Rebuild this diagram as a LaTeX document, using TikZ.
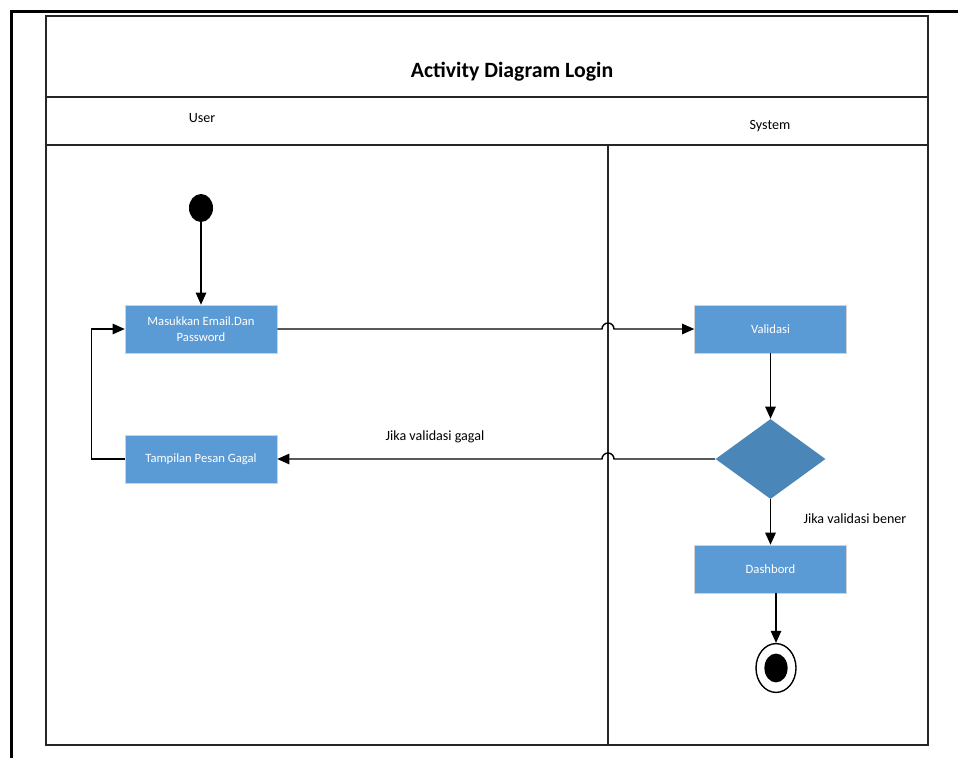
\documentclass[tikz,border=0pt]{standalone}
\usepackage{fontspec}
\setmainfont{Carlito}
\usetikzlibrary{arrows.meta, positioning, shapes.geometric, calc, shadows}

\definecolor{boxblue}{HTML}{5B9BD5}
\definecolor{diamondblue}{HTML}{4A86B8}

\begin{document}
\begin{tikzpicture}[
    x=0.025cm, y=0.025cm,
    font=\fontsize{9}{11}\selectfont,
    activity/.style={rectangle, draw=gray!35, fill=boxblue, text=white, minimum width=3.8cm, minimum height=1.2cm, align=center, inner sep=2pt,
        drop shadow={opacity=0.12, shadow xshift=0.6pt, shadow yshift=-1pt}},
    decision/.style={diamond, fill=diamondblue, minimum width=2.75cm, minimum height=2cm, aspect=1.375, inner sep=0pt},
    flow/.style={-{Triangle[length=3mm, width=2.6mm]}, line width=1pt},
    lane/.style={line width=1.1pt, draw=black!85},
    lbl/.style={font=\fontsize{10}{12}\selectfont}
]
    \useasboundingbox (0,0) rectangle (958,-758);

    % Page edge
    \draw[line width=2.8pt] (11.5,-758) -- (11.5,-11.5) -- (958,-11.5);

    % Swimlanes
    \draw[lane] (46,-16) rectangle (928,-745);
    \draw[lane] (46,-97) -- (928,-97);
    \draw[lane] (46,-145) -- (928,-145);
    \coordinate (lanetop) at (608,-145);
    \coordinate (lanebot) at (608,-745);
    \draw[lane] (lanetop) -- (lanebot);

    \node[font=\fontsize{15.5}{18}\selectfont\bfseries] (title) at (512,-72) {Activity Diagram Login};
    \node[lbl] (user) at (202,-118) {User};
    \node[lbl] (system) at (770,-126) {System};

    % Nodes
    \node[ellipse, fill=black, minimum width=0.6cm, minimum height=0.7cm, inner sep=0pt] (start) at (201,-208) {};
    \node[activity] (input) at (201,-329) {Masukkan Email.Dan\\Password};
    \node[activity] (fail) at (201,-459) {Tampilan Pesan Gagal};
    \node[activity] (valid) at (770.5,-329) {Validasi};
    \node[decision] (check) at (770.5,-459) {};
    \node[activity] (dash) at (770.5,-569) {Dashbord};
    \node[ellipse, draw, line width=1pt, fill=white, minimum width=1cm, minimum height=1.22cm, inner sep=0pt] (final) at (776,-668) {};
    \node[ellipse, fill=black, minimum width=0.58cm, minimum height=0.72cm, inner sep=0pt] (finaldot) at (final) {};

    % Flows
    \draw[flow] (start) -- (input);
    \draw[flow] (input.east) -- ($(input.east -| lanetop)+(-6,0)$) arc[start angle=180, end angle=0, radius=0.15cm] -- (valid.west);
    \draw[flow] (valid) -- (check);
    \draw[flow] (check.west) -- ($(check.west -| lanetop)+(6,0)$) arc[start angle=0, end angle=180, radius=0.15cm] -- (fail.east);
    \draw[flow] (fail.west) -- ++(-33,0) |- (input.west);
    \draw[flow] (check) -- (dash);
    \draw[flow] (dash.south -| final) -- (final);

    \node[lbl] (gagal) at (435,-437) {Jika validasi gagal};
    \node[lbl] (bener) at (855,-519) {Jika validasi bener};
\end{tikzpicture}
\end{document}
